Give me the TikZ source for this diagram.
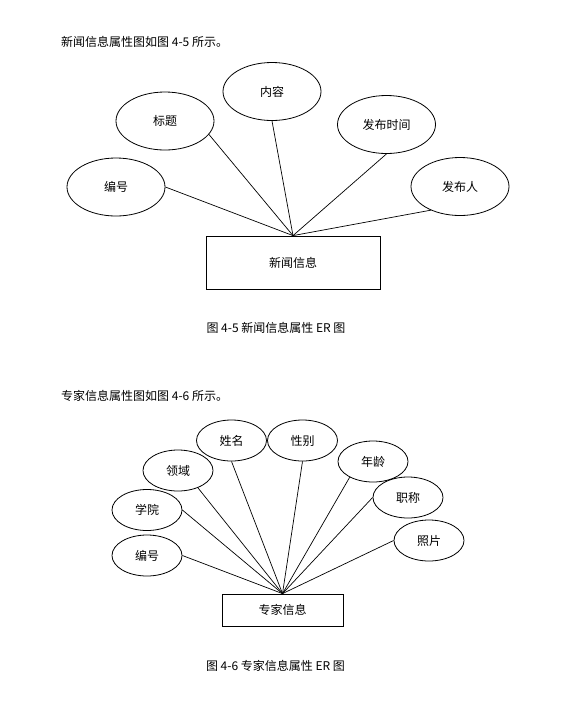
\documentclass[tikz,border=0pt]{standalone}
\usepackage{fontspec}
\setmainfont{Noto Sans CJK SC}
\usetikzlibrary{shapes.geometric}

\begin{document}
\begin{tikzpicture}[
    x=1pt, y=-1pt,
    attr/.style={
        ellipse, draw,
        inner sep=0pt,
        line width=0.8pt, font=\fontsize{12}{14}\selectfont
    },
    bigattr/.style={attr, minimum width=98pt, minimum height=58pt},
    smallattr/.style={attr, minimum width=70pt, minimum height=41pt},
    entity/.style={
        rectangle, draw,
        inner sep=0pt,
        line width=0.8pt, font=\fontsize{12}{14}\selectfont
    },
    link/.style={line width=0.7pt},
    caption/.style={font=\fontsize{12}{14}\selectfont, inner sep=0pt}
]
  \useasboundingbox (0,0) rectangle (573,705);

  % Figure 4-5: news entity
  \node[caption, anchor=west] (head1) at (61,42) {新闻信息属性图如图 4-5 所示。};

  \node[bigattr] (bianhao) at (116,187) {编号};
  \node[bigattr] (biaoti) at (165,121) {标题};
  \node[bigattr] (neirong) at (272,91.5) {内容};
  \node[bigattr] (fbsj) at (386.5,124.5) {发布时间};
  \node[bigattr] (fbr) at (460,186.5) {发布人};

  \node[entity, minimum width=174pt, minimum height=53pt] (news) at (293,262.5) {新闻信息};

  \draw[link] (bianhao.east) -- (news.north);
  \draw[link] (biaoti.-17) -- (news.north);
  \draw[link] (neirong.south) -- (news.north);
  \draw[link] (fbsj.south) -- (news.north);
  \draw[link] (fbr.-141) -- (news.north);

  \node[caption] (cap1) at (276,328) {图 4-5 新闻信息属性 ER 图};

  % Figure 4-6: expert entity
  \node[caption, anchor=west] (head2) at (61,396) {专家信息属性图如图 4-6 所示。};

  \node[smallattr] (xingming) at (231.5,440.5) {姓名};
  \node[smallattr] (xingbie) at (302.5,440.5) {性别};
  \node[smallattr] (lingyu) at (178,470.5) {领域};
  \node[smallattr] (nianling) at (373,461.5) {年龄};
  \node[smallattr] (xueyuan) at (147,510) {学院};
  \node[smallattr] (zhicheng) at (408,497.5) {职称};
  \node[smallattr] (zjbh) at (147,555.5) {编号};
  \node[smallattr] (zhaopian) at (429,540.5) {照片};

  \node[entity, minimum width=121pt, minimum height=32pt] (expert) at (282.5,610) {专家信息};

  \draw[link] (zjbh.east) -- (expert.north);
  \draw[link] (xueyuan.east) -- (expert.north);
  \draw[link] (lingyu.-41) -- (expert.north);
  \draw[link] (xingming.south) -- (expert.north);
  \draw[link] (xingbie.south) -- (expert.north);
  \draw[link] (nianling.-146) -- (expert.north);
  \draw[link] (zhicheng.west) -- (expert.north);
  \draw[link] (zhaopian.west) -- (expert.north);

  \node[caption] (cap2) at (275.5,666) {图 4-6 专家信息属性 ER 图};

\end{tikzpicture}
\end{document}
